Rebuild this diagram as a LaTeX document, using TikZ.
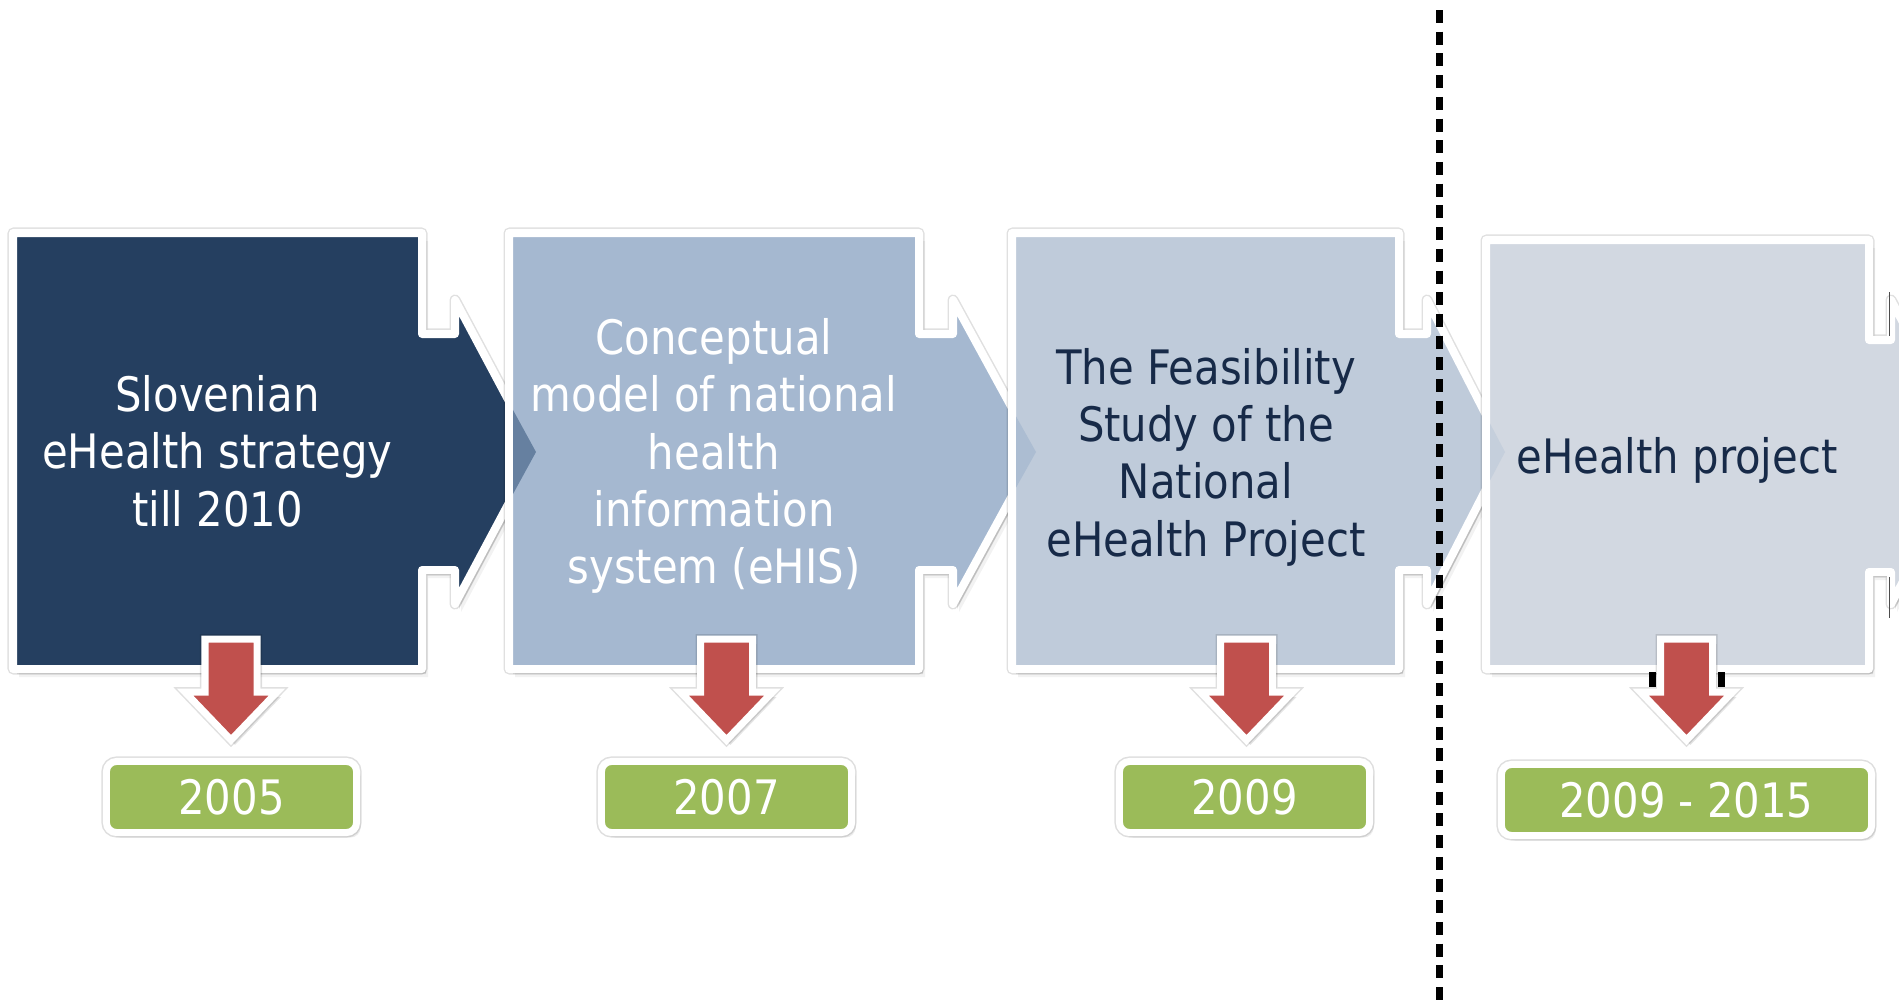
\documentclass[tikz,border=0pt]{standalone}
\usepackage{fontspec}
\setmainfont{DejaVu Sans}[FakeStretch=0.88]
\usetikzlibrary{shadows}
\definecolor{navy}{RGB}{37,63,96}
\definecolor{boxtwo}{RGB}{165,184,208}
\definecolor{boxthree}{RGB}{191,203,218}
\definecolor{boxfour}{RGB}{210,216,225}
\definecolor{tiponetwo}{RGB}{102,128,160}
\definecolor{tiptwothree}{RGB}{172,189,210}
\definecolor{tipthreefour}{RGB}{197,207,220}
\definecolor{redarr}{RGB}{192,80,77}
\definecolor{grn}{RGB}{155,187,89}
\definecolor{darktext}{RGB}{23,42,72}
% L R T B H P fill notchtop notchbottom
\newcommand\procshape[9]{%
  \path[fill=black, opacity=0.05, shift={(6,8)}] (#1,#3) -- (#2,#3) -- (#2,#8) -- (#5,#8) -- (#5,300) -- (#6,452) -- (#5,604) -- (#5,#9) -- (#2,#9) -- (#2,#4) -- (#1,#4) -- cycle;
  \path[fill=black, opacity=0.10, shift={(4,5)}] (#1,#3) -- (#2,#3) -- (#2,#8) -- (#5,#8) -- (#5,300) -- (#6,452) -- (#5,604) -- (#5,#9) -- (#2,#9) -- (#2,#4) -- (#1,#4) -- cycle;
  \path[boxst, fill=#7] (#1,#3) -- (#2,#3) -- (#2,#8) -- (#5,#8) -- (#5,300) -- (#6,452) -- (#5,604) -- (#5,#9) -- (#2,#9) -- (#2,#4) -- (#1,#4) -- cycle;}
% blended tip: H P clipx colour
\newcommand\tipblend[4]{%
  \begin{scope}
    \clip (#3,0) rectangle (1899,1000);
    \fill[#4] (#1,304) -- (#2,452) -- (#1,600) -- cycle;
  \end{scope}}
\newcommand\redarrow[1]{%
  \path[fill=black, opacity=0.10, shift={(4,5)}] (#1-26,639) -- (#1+26,639) -- (#1+26,692) -- (#1+46,692) -- (#1,740) -- (#1-46,692) -- (#1-26,692) -- cycle;
  \path[rarr] (#1-26,639) -- (#1+26,639) -- (#1+26,692) -- (#1+46,692) -- (#1,740) -- (#1-46,692) -- (#1-26,692) -- cycle;}
\begin{document}
\begin{tikzpicture}[x=0.01cm,y=-0.01cm,
  boxst/.style={preaction={draw=black, draw opacity=0.12, line width=1.1mm, line join=round},
    draw=white, line width=0.8mm, line join=round},
  rarr/.style={preaction={draw=black, draw opacity=0.12, line width=1.0mm, line join=miter, miter limit=4},
    fill=redarr, draw=white, line width=0.7mm, line join=miter, miter limit=4},
  lbl/.style={rounded corners=1mm, fill=grn, draw=white, line width=0.7mm,
    preaction={draw=black, draw opacity=0.13, line width=1.0mm},
    minimum height=0.71cm, inner sep=0pt, text=white,
    font=\fontsize{13.5pt}{16.3pt}\selectfont,
    drop shadow={opacity=0.15, shadow xshift=0.04cm, shadow yshift=-0.05cm}},
  boxtext/.style={align=center, inner sep=0pt, font=\fontsize{13.5pt}{16.3pt}\selectfont},
  dashline/.style={draw=black, line width=0.7mm, dash pattern=on 0.13cm off 0.087cm}]
\useasboundingbox (0,0) rectangle (1899,1000);
\fill[white] (0,0) rectangle (1899,1000);
\clip (0,0) rectangle (1899,1000);

% process shapes
\procshape{13}{422}{233}{669}{455}{536}{navy}{334}{570}
\procshape{509}{919}{233}{669}{953}{1036}{boxtwo}{334}{570}
\tipblend{455}{536}{513}{tiponetwo}
\procshape{1012}{1399}{233}{669}{1427}{1505}{boxthree}{334}{570}
\tipblend{953}{1036}{1016}{tiptwothree}
\procshape{1486}{1869}{240}{669}{1891}{1972}{boxfour}{340}{572}
\tipblend{1427}{1505}{1490}{tipthreefour}
\draw[black!70, line width=0.15mm] (1889.5,292) -- (1889.5,336);
\draw[black!70, line width=0.15mm] (1889.5,577) -- (1889.5,618);

% texts
\node[boxtext, text=white] (t1) at (217.5,451) {Slovenian\\eHealth strategy\\till 2010};
\node[boxtext, text=white] (t2) at (714,456) {Conceptual\\model of national\\health\\information\\system (eHIS)};
\node[boxtext, text=darktext] (t3) at (1206,457) {The Feasibility\\Study of the\\National\\eHealth Project};
\node[boxtext, text=darktext] (t4) at (1677,460) {eHealth project};

% red arrows
\redarrow{231}
\redarrow{726.5}
\redarrow{1246.5}
\redarrow{1686.5}
\fill[black] (1649,672) rectangle (1656,687);
\fill[black] (1718,672) rectangle (1725,687);

% year labels
\node[lbl, minimum width=2.50cm] (y1) at (231.5,797) {2005};
\node[lbl, minimum width=2.50cm] (y2) at (726.5,797) {2007};
\node[lbl, minimum width=2.50cm] (y3) at (1244.5,797) {2009};
\node[lbl, minimum width=3.70cm] (y4) at (1686.5,800) {2009 - 2015};

% dashed separator
\coordinate (dtop) at (1439.5,10);
\coordinate (dbot) at (1439.5,1000);
\draw[dashline] (dtop) -- (dbot);
\end{tikzpicture}
\end{document}
